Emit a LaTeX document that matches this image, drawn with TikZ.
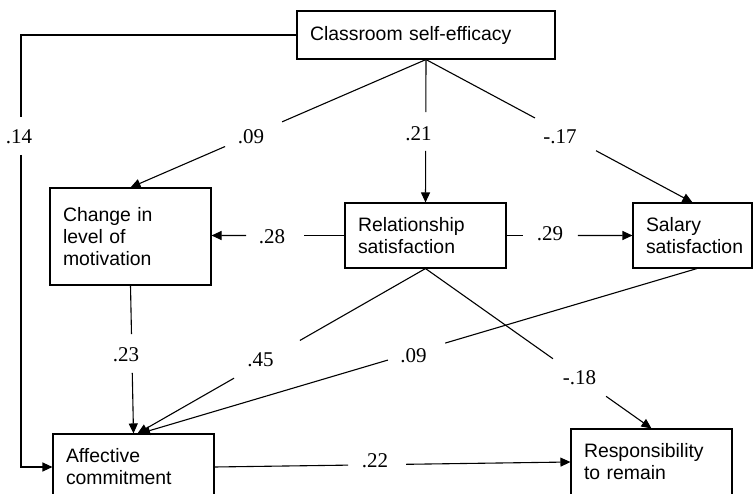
\documentclass[tikz,border=0pt]{standalone}
\usepackage{fontspec}
\setmainfont{Liberation Serif}
\newfontfamily\boxfont{Liberation Sans}
\usetikzlibrary{arrows.meta,calc}
\begin{document}
\begin{tikzpicture}[x=1pt,y=-1pt,
  box/.style={draw, line width=1.1pt, rectangle, align=left, inner xsep=13pt, inner ysep=0pt,
    font=\boxfont\fontsize{19.4}{22}\selectfont},
  lbl/.style={font=\fontsize{21}{24}\selectfont, inner sep=0pt},
  conn/.style={line width=1.1pt},
  arr/.style={conn, -{Triangle[length=10pt,width=9pt]}}]
\useasboundingbox (0,0) rectangle (753,494);
\clip (0,0) rectangle (753,494);

% boxes
\node[box, text width=232pt, minimum height=48pt] (cls) at (426,35) {Classroom self-efficacy};
\node[box, text width=135pt, minimum height=97pt] (chg) at (130.5,236.5) {Change in\\level of\\motivation};
\node[box, text width=135pt, minimum height=65pt] (rel) at (425.5,235.5) {Relationship\\satisfaction};
\node[box, text width=93pt, minimum height=65pt] (sal) at (692.5,235.5) {Salary\\satisfaction};
\node[box, text width=135pt, minimum height=66pt] (aff) at (133.5,467) {Affective\\commitment};
\node[box, text width=135pt, minimum height=66pt] (res) at (651.5,462) {Responsibility\\to remain};

% helper coordinates
\coordinate (t14a) at (21,117);
\coordinate (t14b) at (21,155);
\coordinate (affA) at ($(aff.north)+(4,0)$);
\coordinate (affB) at ($(aff.north)+(6.5,0)$);
\coordinate (salS) at ($(sal.south)+(4.5,0)$);

% .14
\draw[conn] (cls.west) -| (t14a);
\draw[arr] (t14b) |- (aff.west);
% .09 top
\draw[conn] (cls.south) -- ($(cls.south)!0.487!(chg.north)$);
\draw[arr] ($(cls.south)!0.680!(chg.north)$) -- (chg.north);
% .21
\draw[conn] (cls.south) -- ($(cls.south)!0.368!(rel.north)$);
\draw[arr] ($(cls.south)!0.639!(rel.north)$) -- (rel.north);
% -.17
\draw[conn] (cls.south) -- ($(cls.south)!0.409!(sal.north)$);
\draw[arr] ($(cls.south)!0.638!(sal.north)$) -- (sal.north);
% .28
\draw[conn] (rel.west) -- ($(rel.west)!0.306!(rel.west -| chg.east)$);
\draw[arr] ($(rel.west)!0.739!(rel.west -| chg.east)$) -- (rel.west -| chg.east);
% .29
\draw[conn] (rel.east) -- ($(rel.east)!0.134!(sal.west)$);
\draw[arr] ($(rel.east)!0.567!(sal.west)$) -- (sal.west);
% .23
\draw[conn] (chg.south) -- ($(chg.south)!0.329!(aff.north)$);
\draw[arr] ($(chg.south)!0.591!(aff.north)$) -- (aff.north);
% .45
\draw[conn] (rel.south) -- ($(rel.south)!0.436!(affA)$);
\draw[arr] ($(rel.south)!0.665!(affA)$) -- (affA);
% .09 lower
\draw[conn] (salS) -- ($(salS)!0.452!(affB)$);
\draw[arr] ($(salS)!0.555!(affB)$) -- (affB);
% -.18
\draw[conn] (rel.south) -- ($(rel.south)!0.564!(res.north)$);
\draw[arr] ($(rel.south)!0.799!(res.north)$) -- (res.north);
% .22
\draw[conn] (aff.east) -- ($(aff.east)!0.375!(res.west)$);
\draw[arr] ($(aff.east)!0.538!(res.west)$) -- (res.west);

% labels
\node[lbl] (l14) at (19,137) {.14};
\node[lbl] (l09a) at (251,137) {.09};
\node[lbl] (l21) at (418.5,133.5) {.21};
\node[lbl] (l17) at (560,137) {-.17};
\node[lbl] (l28) at (272,237) {.28};
\node[lbl] (l29) at (550,233.5) {.29};
\node[lbl] (l23) at (126,354.5) {.23};
\node[lbl] (l45) at (260.5,359.5) {.45};
\node[lbl] (l09b) at (413.5,355.5) {.09};
\node[lbl] (l18) at (579.5,377.5) {-.18};
\node[lbl] (l22) at (375,460.5) {.22};
\end{tikzpicture}
\end{document}
